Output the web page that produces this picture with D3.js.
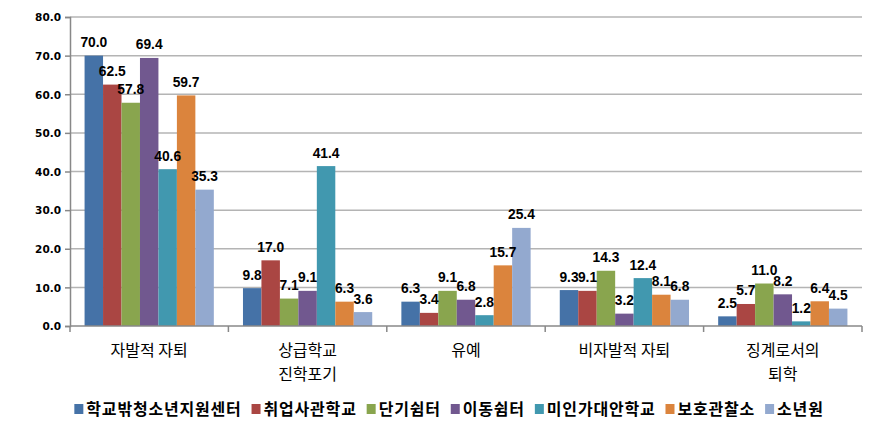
<!DOCTYPE html>
<html><head><meta charset="utf-8">
<script src="https://cdn.jsdelivr.net/npm/d3@7"></script>
<style>body{margin:0;background:#fff}svg{display:block}</style>
</head><body><svg id="c" width="896" height="431"></svg>
<script>
const categories = [["자발적 자퇴"], ["상급학교", "진학포기"], ["유예"], ["비자발적 자퇴"], ["징계로서의", "퇴학"]];
const seriesNames = ["학교밖청소년지원센터", "취업사관학교", "단기쉼터", "이동쉼터", "미인가대안학교", "보호관찰소", "소년원"];
const colors = ["#4572A7", "#AA4643", "#89A54E", "#71588F", "#4198AF", "#DB843D", "#93A9CF"];
const s1 = [70.0, 9.8, 6.3, 9.3, 2.5];
const s2 = [62.5, 17.0, 3.4, 9.1, 5.7];
const s3 = [57.8, 7.1, 9.1, 14.3, 11.0];
const s4 = [69.4, 9.1, 6.8, 3.2, 8.2];
const s5 = [40.6, 41.4, 2.8, 12.4, 1.2];
const s6 = [59.7, 6.3, 15.7, 8.1, 6.4];
const s7 = [35.3, 3.6, 25.4, 6.8, 4.5];
const series = [s1, s2, s3, s4, s5, s6, s7];
const yTicks = [0, 10, 20, 30, 40, 50, 60, 70, 80];

const svg = d3.select("#c");
const L = 70, R = 862, T = 17, B = 326;
const x0 = d3.scaleBand().domain(d3.range(categories.length)).range([L, R]).paddingInner(0.184).paddingOuter(0.092);
const x1 = d3.scaleBand().domain(d3.range(series.length)).range([0, x0.bandwidth()]);
const y = d3.scaleLinear().domain([0, 80]).range([B, T]);

// gridlines
svg.append("g").selectAll("line").data(yTicks.filter(d => d > 0)).join("line")
  .attr("x1", L).attr("x2", R).attr("y1", d => y(d)).attr("y2", d => y(d))
  .attr("stroke", "#b4b4b4").attr("stroke-width", 1.5);

// y axis
const ya = svg.append("g").attr("transform", `translate(${L},0)`)
  .call(d3.axisLeft(y).tickValues(yTicks).tickFormat(d3.format(".1f")).tickSize(5).tickPadding(4));
ya.select(".domain").attr("stroke", "#888").attr("stroke-width", 1.5);
ya.selectAll(".tick line").attr("stroke", "#888").attr("stroke-width", 1.5);
ya.selectAll("text").attr("font-family", "DejaVu Sans").attr("font-weight", "bold").attr("font-size", "10.5px").attr("fill", "#000").attr("dy", "0.36em");

// bars
const groups = svg.append("g").selectAll("g").data(series).join("g").attr("fill", (d, i) => colors[i]);
groups.each(function(vals, si) {
  const g = d3.select(this);
  g.selectAll("rect").data(vals).join("rect")
    .attr("x", (v, ci) => x0(ci) + x1(si))
    .attr("width", x1.bandwidth())
    .attr("y", v => y(v))
    .attr("height", v => B - y(v));
});

// value labels
groups.each(function(vals, si) {
  d3.select(this.parentNode).append("g").selectAll("text").data(vals).join("text")
    .attr("x", (v, ci) => x0(ci) + x1(si) + x1.bandwidth() / 2)
    .attr("y", v => y(v) - 8.5)
    .attr("text-anchor", "middle")
    .attr("font-family", "Liberation Sans, Arial")
    .attr("font-weight", "bold").attr("font-size", "13.8px").attr("fill", "#000")
    .text(v => v.toFixed(1));
});

// x axis
svg.append("line").attr("x1", L).attr("x2", R).attr("y1", B).attr("y2", B).attr("stroke", "#888").attr("stroke-width", 1.5);
const bounds = d3.range(categories.length + 1).map(i => L + i * (R - L) / categories.length);
svg.append("g").selectAll("line").data(bounds).join("line")
  .attr("x1", d => d).attr("x2", d => d).attr("y1", B).attr("y2", B + 6)
  .attr("stroke", "#888").attr("stroke-width", 1.5);

const cl = svg.append("g").selectAll("text").data(categories).join("text")
  .attr("x", (d, i) => x0(i) + x0.bandwidth() / 2)
  .attr("y", 356)
  .attr("text-anchor", "middle")
  .attr("font-family", "Noto Sans CJK KR").attr("font-size", "16px").attr("fill", "#000");
cl.selectAll("tspan").data(d => d).join("tspan")
  .attr("x", function() { return d3.select(this.parentNode).attr("x"); })
  .attr("dy", (d, i) => i === 0 ? 0 : 24)
  .text(d => d);

// legend
const lg = svg.append("g");
const items = lg.selectAll("g").data(seriesNames).join("g");
items.append("rect").attr("width", 9).attr("height", 10).attr("y", -5).attr("fill", (d, i) => colors[i]);
items.append("text").attr("x", 12).attr("dy", "0.35em")
  .attr("font-family", "Noto Sans CJK KR").attr("font-weight", "bold").attr("font-size", "16px")
  .attr("letter-spacing", "0.8px").attr("fill", "#000")
  .text(d => d);
let cx = 0;
const pos = [];
items.each(function() {
  const w = this.querySelector("text").getComputedTextLength();
  pos.push(cx);
  cx += 12 + w + 10;
});
const total = cx - 10;
const start = 449 - total / 2;
items.attr("transform", (d, i) => `translate(${start + pos[i]},409)`);
</script></body></html>
